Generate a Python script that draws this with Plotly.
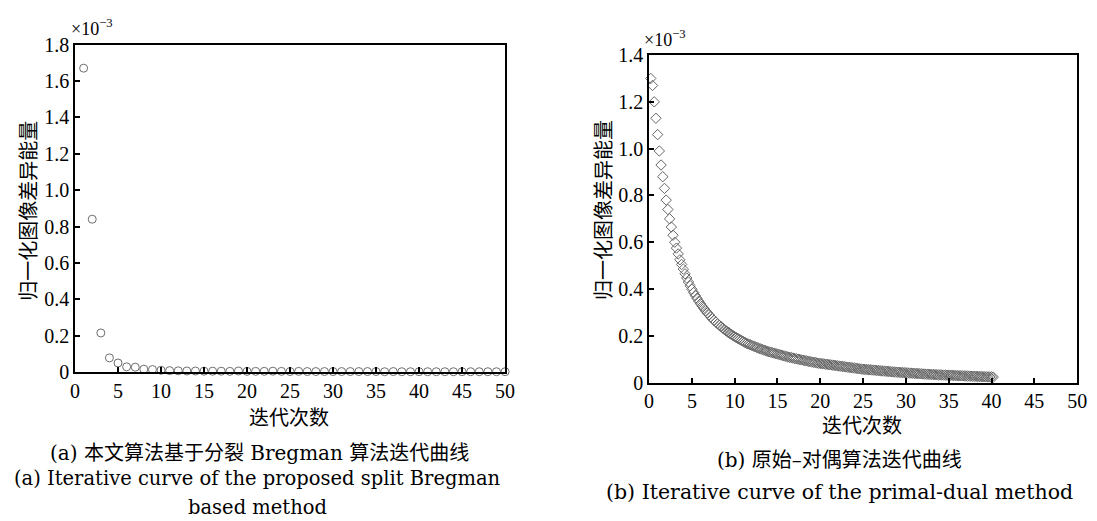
import plotly.graph_objects as go

# ---------------- data (values in units of 1e-3) ----------------
iter_a = list(range(1, 51))
energy_a = [1.67, 0.84, 0.215, 0.078, 0.050, 0.029, 0.027, 0.016, 0.014, 0.010,
            0.008, 0.007, 0.006, 0.006, 0.005, 0.005, 0.005, 0.004, 0.006, 0.004,
            0.004, 0.004, 0.005, 0.004, 0.003, 0.004, 0.003, 0.003, 0.003, 0.003,
            0.003, 0.003, 0.003, 0.003, 0.003, 0.002, 0.003, 0.002, 0.002, 0.002,
            0.002, 0.002, 0.002, 0.002, 0.002, 0.002, 0.002, 0.002, 0.002, 0.002]

energy_b = [
    1.30, 1.27, 1.20, 1.13, 1.06, 0.99, 0.93, 0.88, 0.83, 0.78,
    0.74, 0.70, 0.665, 0.63, 0.60, 0.575, 0.55, 0.525, 0.505, 0.485,
    0.465, 0.447, 0.430, 0.414, 0.399, 0.385, 0.372, 0.360, 0.348, 0.337,
    0.327, 0.317, 0.307, 0.298, 0.290, 0.281, 0.273, 0.266, 0.259, 0.252,
    0.245, 0.239, 0.233, 0.227, 0.221, 0.216, 0.211, 0.206, 0.201, 0.196,
    0.192, 0.188, 0.184, 0.180, 0.176, 0.172, 0.168, 0.165, 0.162, 0.159,
    0.156, 0.153, 0.150, 0.147, 0.144, 0.142, 0.139, 0.137, 0.134, 0.132,
    0.130, 0.128, 0.126, 0.124, 0.122,
    0.120, 0.118, 0.116, 0.114, 0.112, 0.110, 0.108, 0.107, 0.105, 0.103,
    0.102, 0.100, 0.099, 0.097, 0.096, 0.094, 0.093, 0.091, 0.090, 0.088,
    0.087, 0.086, 0.084, 0.083, 0.082,
    0.081, 0.080, 0.079, 0.078, 0.077, 0.076, 0.075, 0.074, 0.073, 0.072,
    0.071, 0.070, 0.069, 0.068, 0.067, 0.066, 0.065, 0.064, 0.063, 0.062,
    0.061, 0.060, 0.059, 0.058, 0.057,
    0.0565, 0.056, 0.0555, 0.055, 0.054, 0.0535, 0.053, 0.052, 0.0515, 0.051,
    0.050, 0.0495, 0.049, 0.048, 0.0475, 0.047, 0.046, 0.0455, 0.045, 0.0445,
    0.044, 0.0435, 0.043, 0.0425, 0.042,
    0.0415, 0.041, 0.0405, 0.040, 0.0395, 0.039, 0.0385, 0.038, 0.0375, 0.037,
    0.0366, 0.0362, 0.0358, 0.0354, 0.035, 0.0346, 0.0342, 0.0338, 0.0334, 0.033,
    0.0327, 0.0324, 0.0321, 0.0318, 0.0315,
    0.0312, 0.0309, 0.0306, 0.0303, 0.030, 0.0297, 0.0294, 0.0291, 0.0288, 0.0285,
    0.0282, 0.0279, 0.0276, 0.0273, 0.027, 0.0267, 0.0264, 0.0261, 0.0258, 0.0255,
    0.0252, 0.0249, 0.0246, 0.0243, 0.024, 0.0237]
# iterations sampled at 1/5 of the displayed unit
iter_b = [(k + 1) / 5 for k in range(len(energy_b))]

x_ticks = [0, 5, 10, 15, 20, 25, 30, 35, 40, 45, 50]
y_ticks_a = [0, 0.2, 0.4, 0.6, 0.8, 1.0, 1.2, 1.4, 1.6, 1.8]
y_text_a = ["0", "0.2", "0.4", "0.6", "0.8", "1.0", "1.2", "1.4", "1.6", "1.8"]
y_ticks_b = [0, 0.2, 0.4, 0.6, 0.8, 1.0, 1.2, 1.4]
y_text_b = ["0", "0.2", "0.4", "0.6", "0.8", "1.0", "1.2", "1.4"]

ylabel = "归一化图像差异能量"
xlabel = "迭代次数"
cap_a_cn = "(a) 本文算法基于分裂 Bregman 算法迭代曲线"
cap_a_en1 = "(a) Iterative curve of the proposed split Bregman"
cap_a_en2 = "based method"
cap_b_cn = "(b) 原始–对偶算法迭代曲线"
cap_b_en = "(b) Iterative curve of the primal-dual method"

# ---------------- figure ----------------
W, H = 1097, 521
def px(x): return x / W
def py(y): return 1 - y / H

SERIF = "Liberation Serif, Times New Roman, serif"
CJK = "Noto Sans CJK SC, sans-serif"
CAP = "DejaVu Serif, Noto Sans CJK SC, serif"

fig = go.Figure()
fig.add_trace(go.Scatter(
    x=iter_a, y=energy_a, mode="markers", xaxis="x", yaxis="y",
    marker=dict(symbol="circle-open", size=8, color="#6e6e6e", line=dict(width=1)),
    showlegend=False, cliponaxis=False))
fig.add_trace(go.Scatter(
    x=iter_b, y=energy_b, mode="markers", xaxis="x2", yaxis="y2",
    marker=dict(symbol="diamond-open", size=8, color="#666666", line=dict(width=1)),
    showlegend=False, cliponaxis=False))

axis_common = dict(showgrid=False, zeroline=False, showline=True, linecolor="black",
                   linewidth=1.5, mirror=True, ticks="inside", ticklen=5,
                   tickwidth=1.5, tickcolor="black",
                   tickfont=dict(family=SERIF, size=20, color="black"))

fig.update_layout(
    width=W, height=H, margin=dict(l=0, r=0, t=0, b=0),
    paper_bgcolor="white", plot_bgcolor="white",
    xaxis=dict(domain=[px(71), px(507)], range=[0, 50], tickvals=x_ticks,
               anchor="y", **axis_common),
    yaxis=dict(domain=[py(377), py(35)], range=[0, 1.8], tickvals=y_ticks_a,
               ticktext=y_text_a, anchor="x", **axis_common),
    xaxis2=dict(domain=[px(653), px(1087)], range=[0, 50], tickvals=x_ticks,
                anchor="y2", **axis_common),
    yaxis2=dict(domain=[py(388), py(46)], range=[0, 1.4], tickvals=y_ticks_b,
                ticktext=y_text_b, anchor="x2", **axis_common),
)

def ann(text, x, y, size, family=CAP, angle=0, xanchor="center"):
    fig.add_annotation(text=text, x=px(x), y=py(y), xref="paper", yref="paper",
                       showarrow=False, xanchor=xanchor, yanchor="middle",
                       textangle=angle, font=dict(family=family, size=size, color="black"))

# exponent labels
ann("×10<sup>−3</sup>", 65, 17, 18, family=SERIF, xanchor="left")
ann("×10<sup>−3</sup>", 646, 29, 18, family=SERIF, xanchor="left")
# axis titles
ann(ylabel, 22, 209, 20, family=CJK, angle=-90)
ann(ylabel, 606, 208, 20, family=CJK, angle=-90)
ann(xlabel, 288, 423, 20, family=CJK)
ann(xlabel, 869, 432, 20, family=CJK)
# captions
ann(cap_a_cn, 258, 461, 20)
ann(cap_a_en1, 256, 488, 19.5)
ann(cap_a_en2, 256, 518, 19.5)
ann(cap_b_cn, 846, 469, 20)
ann(cap_b_en, 846, 502, 20.5)

fig.write_html("out.html", config={"displayModeBar": False},
               post_script="document.body.style.margin='0';document.body.style.overflow='hidden';")
